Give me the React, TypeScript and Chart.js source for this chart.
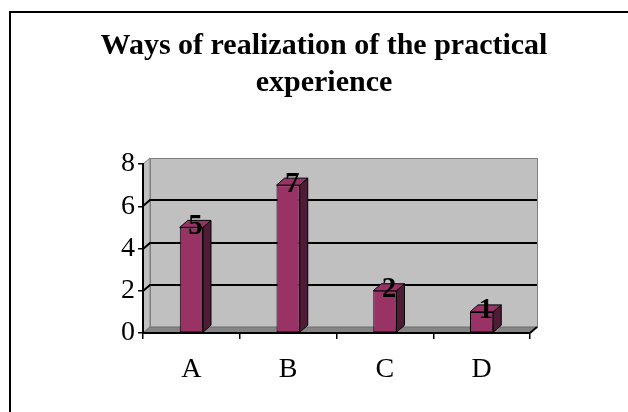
import React, { useEffect, useRef } from "react";
import { Chart, registerables } from "chart.js";

Chart.register(...registerables);

const categories = ["A", "B", "C", "D"];
const values = [5, 7, 2, 1];
const yMin = 0;
const yMax = 8;
const yStep = 2;
const titleLines = ["Ways of realization of the practical", "experience"];

const SERIF = '"Liberation Serif", "Times New Roman", serif';
const WDX = 7;
const WDY = -6;
const BDX = 8;
const BDY = -7;

const threeD = {
  id: "threeD",
  beforeDraw(chart: any) {
    const { ctx } = chart;
    const { left: L, right: R, top: T, bottom: B } = chart.chartArea;
    const ys = chart.scales.y;
    ctx.save();
    ctx.lineWidth = 1;
    // side wall
    ctx.fillStyle = "#c0c0c0";
    ctx.strokeStyle = "#808080";
    ctx.beginPath();
    ctx.moveTo(L, T);
    ctx.lineTo(L + WDX, T + WDY);
    ctx.lineTo(L + WDX, B + WDY);
    ctx.lineTo(L, B);
    ctx.closePath();
    ctx.fill();
    ctx.stroke();
    // back wall
    ctx.fillRect(L + WDX, T + WDY, R - L, B - T);
    ctx.strokeRect(L + WDX + 0.5, T + WDY + 0.5, R - L, B - T);
    // floor
    ctx.fillStyle = "#858585";
    ctx.beginPath();
    ctx.moveTo(L, B);
    ctx.lineTo(L + WDX, B + WDY);
    ctx.lineTo(R + WDX, B + WDY);
    ctx.lineTo(R, B);
    ctx.closePath();
    ctx.fill();
    ctx.strokeStyle = "#6e6e6e";
    ctx.stroke();
    // gridlines
    ctx.strokeStyle = "#000";
    ctx.lineWidth = 2;
    for (let v = yMin + yStep; v < yMax; v += yStep) {
      const py = Math.round(ys.getPixelForValue(v));
      ctx.beginPath();
      ctx.moveTo(L, py);
      ctx.lineTo(L + WDX, py + WDY);
      ctx.lineTo(R + WDX, py + WDY);
      ctx.stroke();
    }
    // right floor edge
    ctx.beginPath();
    ctx.moveTo(R, B);
    ctx.lineTo(R + WDX, B + WDY);
    ctx.stroke();
    ctx.restore();
  },
  afterDatasetsDraw(chart: any) {
    const { ctx } = chart;
    const meta = chart.getDatasetMeta(0);
    ctx.save();
    ctx.lineWidth = 1;
    ctx.strokeStyle = "#000";
    meta.data.forEach((bar: any, i: number) => {
      const { x, y, base, width } = bar.getProps(["x", "y", "base", "width"], true);
      const l = x - width / 2;
      const r = x + width / 2;
      // side
      ctx.fillStyle = "#4f1c35";
      ctx.beginPath();
      ctx.moveTo(r, y);
      ctx.lineTo(r + BDX, y + BDY);
      ctx.lineTo(r + BDX, base + BDY);
      ctx.lineTo(r, base);
      ctx.closePath();
      ctx.fill();
      ctx.stroke();
      // top
      ctx.fillStyle = "#993366";
      ctx.beginPath();
      ctx.moveTo(l, y);
      ctx.lineTo(l + BDX, y + BDY);
      ctx.lineTo(r + BDX, y + BDY);
      ctx.lineTo(r, y);
      ctx.closePath();
      ctx.fill();
      ctx.stroke();
      // label
      ctx.fillStyle = "#000";
      ctx.font = `bold 29px ${SERIF}`;
      ctx.textAlign = "center";
      ctx.textBaseline = "alphabetic";
      ctx.fillText(String(values[i]), x + BDX / 2, y + BDY / 2 + 10);
    });
    ctx.restore();
  },
};

export default function App() {
  const ref = useRef<HTMLCanvasElement>(null);
  useEffect(() => {
    if (!ref.current) return;
    const chart = new Chart(ref.current, {
      type: "bar",
      data: {
        labels: categories,
        datasets: [
          {
            data: values,
            backgroundColor: "#993366",
            borderColor: "#000",
            borderWidth: 1,
            borderSkipped: false,
            barPercentage: 0.24,
            categoryPercentage: 1,
            yAxisID: "y",
          },
        ],
      },
      options: {
        animation: false,
        responsive: false,
        maintainAspectRatio: false,
        layout: { padding: { left: 20, right: 0, top: 0, bottom: 0 } },
        plugins: {
          legend: { display: false },
          tooltip: { enabled: false },
          title: {
            display: true,
            text: titleLines,
            color: "#000",
            font: { family: SERIF, size: 30, weight: "bold", lineHeight: 1.25 },
            padding: { top: 27, bottom: 62 },
          },
        },
        scales: {
          x: {
            grid: {
              display: true,
              drawOnChartArea: false,
              drawTicks: true,
              tickLength: 6,
              color: "#000",
              lineWidth: 1.5,
              offset: true,
            },
            border: { display: true, color: "#000", width: 2 },
            ticks: { color: "#000", font: { family: SERIF, size: 28 }, padding: 14 },
            afterFit: (s: any) => {
              s.height = 79;
            },
          },
          y: {
            min: yMin,
            max: yMax,
            grid: { display: true, drawOnChartArea: false, drawTicks: true, tickLength: 5, color: "#000", lineWidth: 1.5 },
            border: { display: true, color: "#000", width: 2 },
            ticks: { stepSize: yStep, color: "#000", font: { family: SERIF, size: 28 }, padding: 3 },
            afterFit: (s: any) => {
              s.width = 123;
            },
          },
          y2: {
            position: "right",
            display: true,
            grid: { display: false },
            border: { display: false },
            ticks: { display: false },
            afterFit: (s: any) => {
              s.width = 98;
            },
          },
        },
      },
      plugins: [threeD],
    });
    return () => chart.destroy();
  }, []);
  return (
    <div style={{ position: "fixed", left: 0, top: 0, width: 628, height: 412, background: "#fff" }}>
      <div
        style={{
          position: "absolute",
          left: 9,
          top: 11,
          width: 700,
          height: 500,
          border: "2px solid #000",
          boxSizing: "border-box",
        }}
      />
      <canvas ref={ref} width={628} height={412} style={{ position: "absolute", left: 0, top: 0, width: 628, height: 412 }} />
    </div>
  );
}
